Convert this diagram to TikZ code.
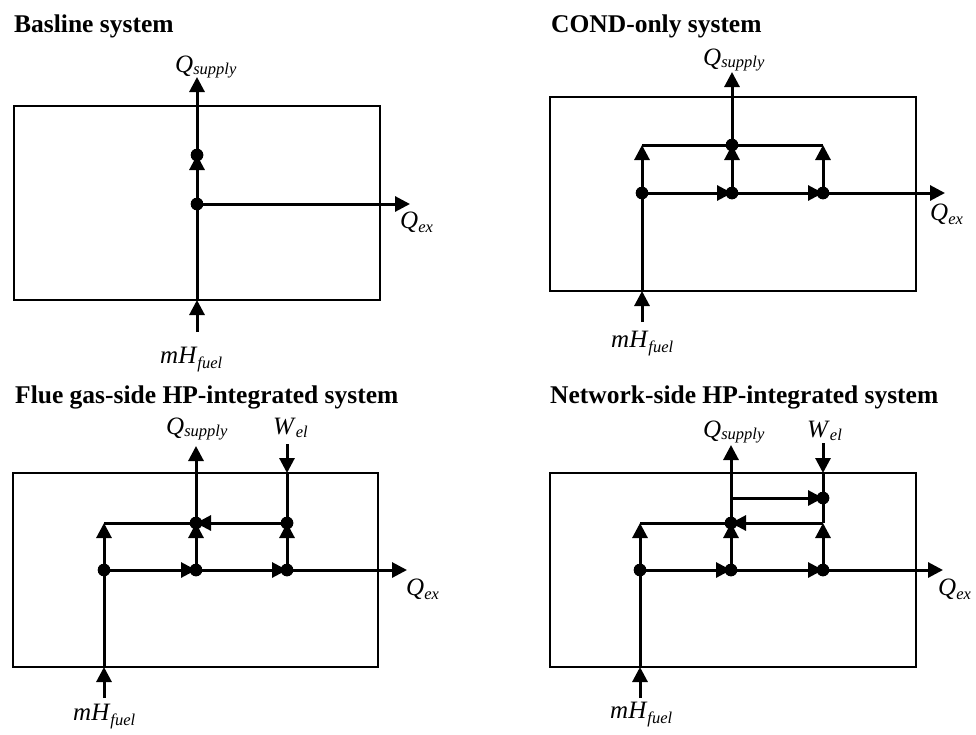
\documentclass[tikz,border=0pt]{standalone}
\usepackage{fontspec}
\setmainfont{Liberation Serif}
\usetikzlibrary{arrows.meta}
\newcommand{\symsub}[3]{\textit{#1}\raisebox{-#3pt}{\fontsize{16.5}{17}\selectfont\textit{#2}}}
\begin{document}
\begin{tikzpicture}[x=1pt,y=-1pt,
  sysbox/.style={draw,line width=1.5pt,inner sep=0pt},
  flow/.style={line width=3pt},
  arr/.style={flow,-{Triangle[length=15pt,width=15pt]}},
  jdot/.style={circle,fill,inner sep=0pt,minimum size=12.5pt},
  ttl/.style={anchor=base west,inner sep=0pt,font=\fontsize{25.5}{30}\selectfont\bfseries},
  lbl/.style={anchor=base west,inner sep=0pt,font=\fontsize{25}{30}\selectfont}]
\useasboundingbox (0,0) rectangle (976,734);
\fill[white] (0,0) rectangle (976,734);

% ---------------- Panel 1: Basline ----------------
\node[ttl] (t1) at (14,32) {Basline system};
\node[sysbox,minimum width=366pt,minimum height=194pt] (box1) at (197,203) {};
\coordinate (p1in) at (197,332);
\coordinate (p1b) at (197,300);
\coordinate (p1top) at (197,77);
\coordinate (p1ex) at (410,204);
\node[jdot] (p1j) at (197,204) {};
\node[jdot] (p1d) at (197,155) {};
\draw[arr] (p1in) -- (p1b);
\draw[flow] (p1b) -- (p1j.center);
\draw[arr] (p1j.center) -- (p1d.center);
\draw[arr] (p1d.center) -- (p1top);
\draw[arr] (p1j.center) -- (p1ex);
\node[jdot] at (p1j) {};
\node[jdot] at (p1d) {};
\node[lbl] (l1q) at (175,72) {\symsub{Q}{supply}{2}};
\node[lbl] (l1x) at (400,228) {\symsub{Q}{ex}{4}};
\node[lbl] (l1f) at (160,363) {\symsub{mH}{fuel}{5}};

% ---------------- Panel 2: COND-only ----------------
\node[ttl] (t2) at (551,32) {COND-only system};
\node[sysbox,minimum width=366pt,minimum height=194pt] (box2) at (733,194) {};
\coordinate (p2in) at (642,322);
\coordinate (p2b) at (642,291);
\coordinate (p2tl) at (642,145);
\coordinate (p2tr) at (823,145);
\coordinate (p2top) at (732,72);
\coordinate (p2ex) at (945,193);
\node[jdot] (p2j1) at (642,193) {};
\node[jdot] (p2j2) at (732,193) {};
\node[jdot] (p2j3) at (823,193) {};
\node[jdot] (p2m) at (732,145) {};
\draw[arr] (p2in) -- (p2b);
\draw[flow] (p2b) -- (p2j1.center);
\draw[arr] (p2j1.center) -- (p2tl);
\draw[flow] (p2tl) -- (p2tr);
\draw[arr] (p2j1.center) -- (p2j2.center);
\draw[arr] (p2j2.center) -- (p2j3.center);
\draw[arr] (p2j3.center) -- (p2ex);
\draw[arr] (p2j2.center) -- (p2m.center);
\draw[arr] (p2j3.center) -- (p2tr);
\draw[arr] (p2m.center) -- (p2top);
\foreach \n in {p2j1,p2j2,p2j3,p2m} \node[jdot] at (\n) {};
\node[lbl] (l2q) at (703,65) {\symsub{Q}{supply}{2}};
\node[lbl] (l2x) at (930,220) {\symsub{Q}{ex}{4}};
\node[lbl] (l2f) at (611,347) {\symsub{mH}{fuel}{5}};

% ---------------- Panel 3: Flue gas-side ----------------
\node[ttl] (t3) at (15,403) {Flue gas-side HP-integrated system};
\node[sysbox,minimum width=365pt,minimum height=194pt] (box3) at (195.5,570) {};
\coordinate (p3in) at (104,698);
\coordinate (p3b) at (104,667);
\coordinate (p3tl) at (104,523);
\coordinate (p3top) at (196,446);
\coordinate (p3ex) at (407,570);
\coordinate (p3w) at (287,444);
\coordinate (p3wb) at (287,473);
\node[jdot] (p3j1) at (104,570) {};
\node[jdot] (p3j2) at (196,570) {};
\node[jdot] (p3j3) at (287,570) {};
\node[jdot] (p3m) at (196,523) {};
\node[jdot] (p3r) at (287,523) {};
\draw[arr] (p3in) -- (p3b);
\draw[flow] (p3b) -- (p3j1.center);
\draw[arr] (p3j1.center) -- (p3tl);
\draw[flow] (p3tl) -- (p3m.center);
\draw[arr] (p3r.center) -- (p3m.center);
\draw[arr] (p3j1.center) -- (p3j2.center);
\draw[arr] (p3j2.center) -- (p3j3.center);
\draw[arr] (p3j3.center) -- (p3ex);
\draw[arr] (p3j2.center) -- (p3m.center);
\draw[arr] (p3j3.center) -- (p3r.center);
\draw[arr] (p3m.center) -- (p3top);
\draw[arr] (p3w) -- (p3wb);
\draw[flow] (p3wb) -- (p3r.center);
\foreach \n in {p3j1,p3j2,p3j3,p3m,p3r} \node[jdot] at (\n) {};
\node[lbl] (l3q) at (166,434) {\symsub{Q}{supply}{2}};
\node[lbl] (l3w) at (273,434) {\symsub{W}{el}{3}};
\node[lbl] (l3x) at (406,595) {\symsub{Q}{ex}{4}};
\node[lbl] (l3f) at (73,720) {\symsub{mH}{fuel}{5}};

% ---------------- Panel 4: Network-side ----------------
\node[ttl] (t4) at (550,403) {Network-side HP-integrated system};
\node[sysbox,minimum width=366pt,minimum height=194pt] (box4) at (733,570) {};
\coordinate (p4in) at (640,698);
\coordinate (p4b) at (640,667);
\coordinate (p4tl) at (640,523);
\coordinate (p4tr) at (823,523);
\coordinate (p4ul) at (731,498);
\coordinate (p4top) at (731,445);
\coordinate (p4ex) at (943,570);
\coordinate (p4w) at (823,443);
\coordinate (p4wb) at (823,473);
\node[jdot] (p4j1) at (640,570) {};
\node[jdot] (p4j2) at (731,570) {};
\node[jdot] (p4j3) at (823,570) {};
\node[jdot] (p4m) at (731,523) {};
\node[jdot] (p4u) at (823,498) {};
\draw[arr] (p4in) -- (p4b);
\draw[flow] (p4b) -- (p4j1.center);
\draw[arr] (p4j1.center) -- (p4tl);
\draw[flow] (p4tl) -- (p4m.center);
\draw[arr] (p4tr) -- (p4m.center);
\draw[arr] (p4j1.center) -- (p4j2.center);
\draw[arr] (p4j2.center) -- (p4j3.center);
\draw[arr] (p4j3.center) -- (p4ex);
\draw[arr] (p4j2.center) -- (p4m.center);
\draw[arr] (p4j3.center) -- (p4tr);
\draw[arr] (p4m.center) -- (p4top);
\draw[arr] (p4ul) -- (p4u.center);
\draw[arr] (p4w) -- (p4wb);
\draw[flow] (p4wb) -- (p4tr);
\foreach \n in {p4j1,p4j2,p4j3,p4m,p4u} \node[jdot] at (\n) {};
\node[lbl] (l4q) at (703,437) {\symsub{Q}{supply}{2}};
\node[lbl] (l4w) at (807,437) {\symsub{W}{el}{3}};
\node[lbl] (l4x) at (938,595) {\symsub{Q}{ex}{4}};
\node[lbl] (l4f) at (610,718) {\symsub{mH}{fuel}{5}};
\end{tikzpicture}
\end{document}
